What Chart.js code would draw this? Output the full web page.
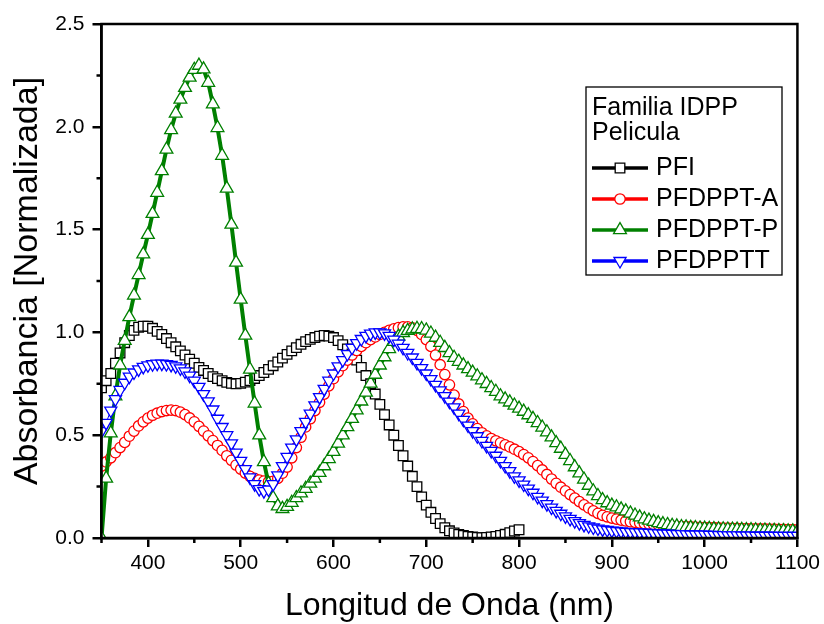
<!DOCTYPE html>
<html>
<head>
<meta charset="utf-8">
<style>
  html, body { margin: 0; padding: 0; background: #fff; }
  #wrap { width: 824px; height: 624px; }
</style>
</head>
<body>
<div id="wrap"><canvas id="chartAbs" width="824" height="624"></canvas></div>
<script src="https://cdn.jsdelivr.net/npm/chart.js@4/dist/chart.umd.min.js"></script>
<script>
// wavelength grid (nm)
const wavelength = [
  350,355,360,365,370,375,380,385,390,395,400,405,410,415,420,425,430,435,440,445,
  450,455,460,465,470,475,480,485,490,495,500,505,510,515,520,525,530,535,540,545,
  550,555,560,565,570,575,580,585,590,595,600,605,610,615,620,625,630,635,640,645,
  650,655,660,665,670,675,680,685,690,695,700,705,710,715,720,725,730,735,740,745,
  750,755,760,765,770,775,780,785,790,795,800,805,810,815,820,825,830,835,840,845,
  850,855,860,865,870,875,880,885,890,895,900,905,910,915,920,925,930,935,940,945,
  950,955,960,965,970,975,980,985,990,995,1000,1005,1010,1015,1020,1025,1030,1035,1040,1045,
  1050,1055,1060,1065,1070,1075,1080,1085,1090,1095,1100
];

// PFI only measured up to 800 nm
const pfi = [
  0.73,0.765,0.80,0.85,0.90,0.95,0.985,1.01,1.025,1.03,1.03,1.02,1.005,0.99,0.97,0.95,0.93,0.91,0.89,0.87,
  0.85,0.83,0.815,0.80,0.785,0.775,0.765,0.757,0.752,0.75,0.752,0.758,0.766,0.776,0.79,0.805,0.82,0.838,0.856,0.875,
  0.893,0.91,0.926,0.942,0.955,0.966,0.975,0.982,0.985,0.982,0.975,0.96,0.94,0.92,0.895,0.865,0.83,0.79,0.75,0.70,
  0.65,0.60,0.55,0.50,0.45,0.40,0.35,0.30,0.25,0.20,0.16,0.125,0.095,0.07,0.05,0.035,0.025,0.017,0.012,0.008,
  0.005,0.003,0.002,0.003,0.005,0.008,0.012,0.018,0.026,0.034,0.04
];

const pfdpptA = [
  0.35,0.37,0.39,0.415,0.44,0.465,0.495,0.52,0.545,0.565,0.583,0.597,0.607,0.615,0.62,0.622,0.62,0.612,0.60,0.584,
  0.565,0.543,0.52,0.497,0.474,0.45,0.426,0.40,0.378,0.355,0.335,0.316,0.30,0.29,0.282,0.277,0.274,0.276,0.29,0.315,
  0.345,0.39,0.44,0.49,0.54,0.58,0.62,0.66,0.70,0.74,0.775,0.808,0.838,0.865,0.89,0.912,0.932,0.95,0.965,0.978,
  0.99,1.0,1.01,1.017,1.023,1.027,1.027,1.022,1.01,0.99,0.965,0.932,0.89,0.843,0.795,0.745,0.695,0.652,0.615,0.583,
  0.555,0.532,0.512,0.497,0.484,0.473,0.463,0.453,0.443,0.432,0.42,0.406,0.39,0.372,0.352,0.331,0.309,0.287,0.266,0.247,
  0.229,0.211,0.194,0.177,0.161,0.146,0.132,0.12,0.11,0.103,0.097,0.092,0.087,0.083,0.079,0.076,0.073,0.07,0.068,0.066,
  0.064,0.062,0.06,0.058,0.057,0.056,0.055,0.054,0.053,0.052,0.051,0.05,0.05,0.049,0.048,0.048,0.047,0.047,0.046,0.046,
  0.045,0.045,0.044,0.044,0.043,0.043,0.042,0.042,0.041,0.041,0.04
];

const pfdpptP = [
  0.0,0.29,0.51,0.69,0.84,0.96,1.075,1.18,1.28,1.38,1.475,1.577,1.68,1.785,1.89,1.985,2.065,2.133,2.19,2.24,
  2.278,2.298,2.28,2.215,2.11,1.995,1.86,1.70,1.525,1.34,1.16,0.985,0.82,0.655,0.50,0.37,0.265,0.195,0.155,0.142,
  0.152,0.172,0.195,0.218,0.24,0.265,0.29,0.318,0.35,0.385,0.42,0.46,0.50,0.54,0.58,0.622,0.665,0.708,0.752,0.795,
  0.84,0.88,0.92,0.955,0.98,0.998,1.008,1.015,1.018,1.017,1.01,0.995,0.975,0.95,0.925,0.90,0.877,0.858,0.84,0.822,
  0.805,0.787,0.768,0.75,0.73,0.712,0.69,0.675,0.66,0.645,0.63,0.615,0.598,0.58,0.56,0.538,0.515,0.49,0.462,0.435,
  0.405,0.375,0.345,0.315,0.285,0.255,0.228,0.205,0.185,0.17,0.158,0.15,0.14,0.13,0.12,0.11,0.101,0.092,0.085,0.079,
  0.073,0.068,0.064,0.06,0.057,0.054,0.052,0.05,0.049,0.047,0.046,0.045,0.044,0.043,0.043,0.042,0.041,0.041,0.04,0.039,
  0.039,0.038,0.037,0.037,0.036,0.035,0.034,0.034,0.033,0.033,0.032
];

const pfdpptt = [
  0.52,0.56,0.62,0.675,0.72,0.755,0.785,0.805,0.82,0.832,0.84,0.845,0.848,0.848,0.846,0.842,0.835,0.825,0.81,0.79,
  0.765,0.735,0.70,0.665,0.625,0.58,0.54,0.50,0.46,0.415,0.375,0.335,0.295,0.262,0.238,0.228,0.236,0.262,0.305,0.35,
  0.395,0.44,0.48,0.52,0.565,0.605,0.645,0.685,0.725,0.765,0.80,0.835,0.865,0.895,0.925,0.948,0.968,0.983,0.994,1.0,
  1.0,0.995,0.983,0.965,0.945,0.925,0.90,0.878,0.852,0.826,0.80,0.773,0.745,0.718,0.69,0.663,0.635,0.605,0.575,0.547,
  0.52,0.495,0.472,0.448,0.424,0.40,0.375,0.35,0.325,0.30,0.28,0.26,0.24,0.22,0.20,0.182,0.165,0.148,0.132,0.118,
  0.105,0.093,0.082,0.072,0.064,0.057,0.051,0.046,0.042,0.039,0.036,0.034,0.032,0.03,0.029,0.028,0.027,0.026,0.025,0.024,
  0.023,0.022,0.021,0.02,0.019,0.019,0.018,0.017,0.017,0.016,0.016,0.015,0.015,0.014,0.014,0.013,0.013,0.013,0.012,0.012,
  0.012,0.011,0.011,0.011,0.011,0.01,0.01,0.01,0.01,0.01,0.01
];

const seriesNames = ['PFI', 'PFDPPT-A', 'PFDPPT-P', 'PFDPPTT'];
const legendTitle = ['Familia IDPP', 'Pelicula'];

const FONT = '"Liberation Sans", Arial, Helvetica, sans-serif';
Chart.defaults.font.family = FONT;
Chart.defaults.color = '#000';

function toPoints(vals) {
  return vals.map((v, i) => ({ x: wavelength[i], y: v }));
}

// marker styles, shared by plot and legend
const styles = [
  { color: '#000000', pointStyle: 'rect', radius: 6.8, rotation: 0 },
  { color: '#ff0000', pointStyle: 'circle', radius: 5.2, rotation: 0 },
  { color: '#008000', pointStyle: 'triangle', radius: 7.4, rotation: 0 },
  { color: '#0000ff', pointStyle: 'triangle', radius: 7.0, rotation: 180 }
];
const lineWidths = [1, 1, 4, 1];
const allValues = [pfi, pfdpptA, pfdpptP, pfdpptt];

const datasets = allValues.map((vals, i) => ({
  label: seriesNames[i],
  data: toPoints(vals),
  borderColor: styles[i].color,
  borderWidth: lineWidths[i],
  pointStyle: styles[i].pointStyle,
  pointRotation: styles[i].rotation,
  pointRadius: styles[i].radius,
  pointBackgroundColor: '#ffffff',
  pointBorderColor: styles[i].color,
  pointBorderWidth: 1.3,
  tension: 0,
  fill: false,
  order: 3 - i
}));

// frame, minor ticks and boxed legend
const decorations = {
  id: 'decorations',
  afterDraw(chart) {
    const { ctx, chartArea: a, scales } = chart;
    ctx.save();
    ctx.strokeStyle = '#000';
    ctx.lineWidth = 2.5;
    ctx.strokeRect(a.left, a.top, a.right - a.left, a.bottom - a.top);

    ctx.beginPath();
    for (let v = 350; v <= 1050; v += 100) {
      const x = scales.x.getPixelForValue(v);
      ctx.moveTo(x, a.bottom); ctx.lineTo(x, a.bottom + 5);
    }
    for (let v = 0.25; v < 2.5; v += 0.5) {
      const y = scales.y.getPixelForValue(v);
      ctx.moveTo(a.left, y); ctx.lineTo(a.left - 5, y);
    }
    ctx.stroke();

    // legend box
    const bx = 586, by = 87, bw = 196, bh = 188;
    ctx.fillStyle = '#fff';
    ctx.fillRect(bx, by, bw, bh);
    ctx.lineWidth = 1.3;
    ctx.strokeRect(bx, by, bw, bh);
    ctx.fillStyle = '#000';
    ctx.font = '25px ' + FONT;
    ctx.textBaseline = 'middle';
    ctx.textAlign = 'left';
    legendTitle.forEach((t, i) => ctx.fillText(t, bx + 6, by + 21 + i * 25));
    seriesNames.forEach((name, i) => {
      const y = by + 81 + i * 31;
      const s = styles[i];
      ctx.strokeStyle = s.color;
      ctx.lineWidth = 3.5;
      ctx.beginPath();
      ctx.moveTo(bx + 6, y); ctx.lineTo(bx + 62, y);
      ctx.stroke();
      ctx.fillStyle = '#fff';
      ctx.lineWidth = 1.3;
      Chart.helpers.drawPoint(ctx, { pointStyle: s.pointStyle, radius: s.radius, rotation: s.rotation, borderWidth: 1.3 }, bx + 34, y);
      ctx.fillStyle = '#000';
      ctx.fillText(name, bx + 70, y);
    });
    ctx.restore();
  }
};

new Chart(document.getElementById('chartAbs'), {
  type: 'line',
  data: { datasets: datasets },
  options: {
    responsive: false,
    animation: false,
    devicePixelRatio: 1,
    layout: { padding: { left: 0, top: 24, right: 26.5, bottom: 0 } },
    plugins: { legend: { display: false }, tooltip: { enabled: false } },
    scales: {
      x: {
        type: 'linear',
        min: 350,
        max: 1100,
        afterFit(s) { s.height = 86; },
        ticks: { stepSize: 100, includeBounds: false, font: { size: 21 }, color: '#000', padding: 4, maxRotation: 0, callback: v => String(v) },
        grid: { drawOnChartArea: false, tickLength: 9, tickColor: '#000', tickWidth: 2.5, lineWidth: 2.5 },
        border: { display: true, color: '#000', width: 2.5 },
        title: { display: true, text: 'Longitud de Onda (nm)', font: { size: 32, lineHeight: 1.1 }, color: '#000', padding: { top: 0, bottom: 0 } }
      },
      y: {
        min: 0,
        max: 2.5,
        afterFit(s) { s.width = 101.5; },
        ticks: { stepSize: 0.5, font: { size: 21 }, color: '#000', padding: 8, callback: v => v.toFixed(1) },
        grid: { drawOnChartArea: false, tickLength: 9, tickColor: '#000', tickWidth: 2.5, lineWidth: 2.5 },
        border: { display: true, color: '#000', width: 2.5 },
        title: { display: true, text: 'Absorbancia [Normalizada]', font: { size: 34, lineHeight: 1.1 }, color: '#000', padding: { top: 9, bottom: 0 } }
      }
    }
  },
  plugins: [decorations]
});
</script>
</body>
</html>
